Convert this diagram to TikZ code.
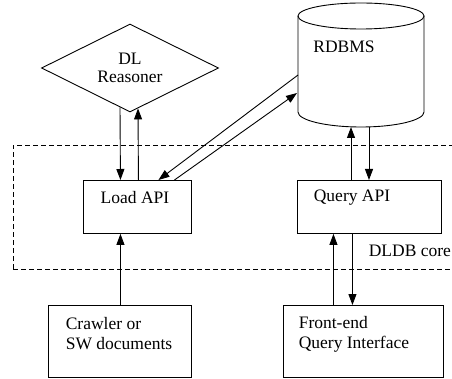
\documentclass[tikz,border=0pt]{standalone}
\usepackage{fontspec}
\setmainfont{Liberation Serif}
\usetikzlibrary{shapes.geometric,arrows.meta}
\begin{document}
\begin{tikzpicture}[x=1pt,y=-1pt,
  line width=0.9pt,
  every node/.style={font=\fontsize{17.5}{20}\selectfont},
  box/.style={draw,rectangle,inner sep=0pt,anchor=north west},
  arr/.style={-{Triangle[length=11pt,width=8pt]}},
  core/.style={draw,dash pattern=on 5pt off 3pt,line width=0.9pt}]
\useasboundingbox (0,0) rectangle (452,379);
% DLDB core region
\draw[core] (13,269) -- (13,145) -- (470,145);
\draw[core] (13,269) -- (470,269);
\node[anchor=west] (corelbl) at (365,251) {DLDB core};
% DL reasoner
\node[draw,diamond,aspect=2,inner sep=0pt,minimum width=177pt,minimum height=88pt,
      align=center] (dl) at (130,68) {DL\\[-2pt]Reasoner};
% RDBMS cylinder
\coordinate (db) at (361,65);
\draw (361,16) ellipse [x radius=63pt, y radius=13pt];
\draw (298,16) -- (298,112) arc[start angle=180,end angle=360,x radius=63pt,y radius=15pt] -- (424,16);
\node (dblbl) at (344,47) {RDBMS};
\coordinate (dbA) at (298,75);
\coordinate (dbB) at (297,93);
\coordinate (dbC) at (351,127);
\coordinate (dbD) at (369,127);
% boxes
\node[box,minimum width=108pt,minimum height=53pt] (la) at (83,180) {};
\node (latxt) at (135,198) {Load API};
\node[box,minimum width=144pt,minimum height=53pt] (qa) at (297,180) {};
\node (qatxt) at (352,198) {Query API};
\node[box,minimum width=143pt,minimum height=72pt] (cr) at (48,305) {};
\node[anchor=west,align=left] (crtxt) at (62,334) {Crawler or\\SW documents};
\node[box,minimum width=160pt,minimum height=72pt] (fe) at (283,305) {};
\node[anchor=west,align=left] (fetxt) at (295,334) {Front-end\\Query Interface};
% connectors
\draw[arr] ([xshift=-10pt,yshift=5pt]dl.south) -- ([xshift=-17pt]la.north);
\draw[arr] ([xshift=1pt]la.north) -- ([xshift=8pt,yshift=4pt]dl.south);
\draw[arr] (dbA) -- ([xshift=21pt]la.north);
\draw[arr] ([xshift=37pt]la.north) -- (dbB);
\draw[arr] (qa.north -| dbC) -- (dbC);
\draw[arr] (dbD) -- (qa.north -| dbD);
\draw[arr] ([xshift=0.5pt]cr.north) -- ([xshift=0.5pt]cr.north |- la.south);
\draw[arr] ([xshift=-30pt]fe.north) -- ([xshift=-30pt]fe.north |- qa.south);
\draw[arr] ([xshift=-11pt]fe.north |- qa.south) -- ([xshift=-11pt]fe.north);
\end{tikzpicture}
\end{document}
